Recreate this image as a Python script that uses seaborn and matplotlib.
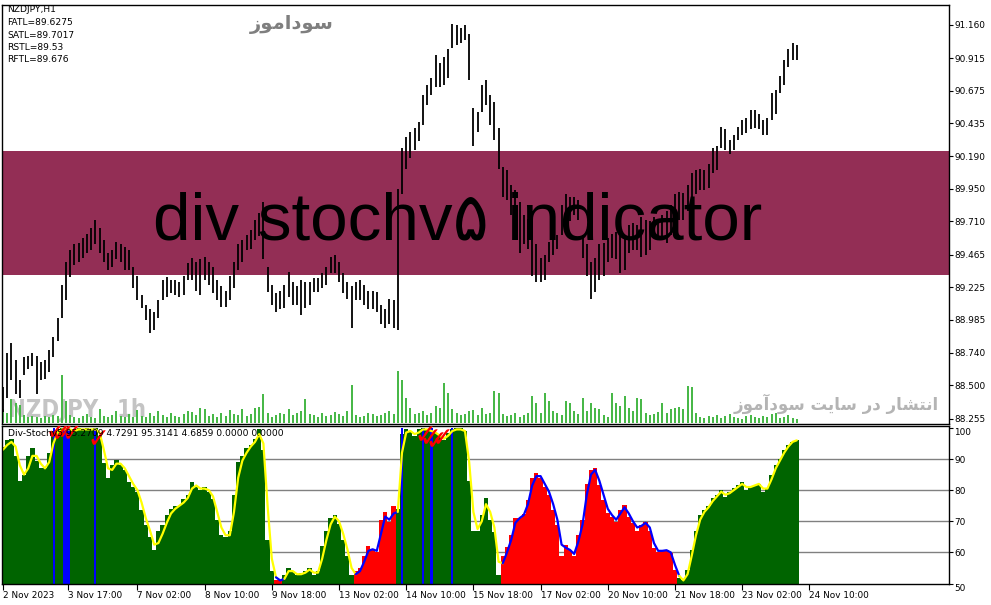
import numpy as np
import matplotlib
matplotlib.use("Agg")
import matplotlib.pyplot as plt
import matplotlib.transforms as mtransforms
import seaborn as sns

# ---------------- data (2-hour bars, hour index = 2*i) ----------------
price_high = [88.49, 88.74, 88.81, 88.69, 88.54, 88.71, 88.72, 88.74, 88.72, 88.67,
              88.69, 88.76, 88.86, 89.00, 89.24, 89.41, 89.50, 89.54, 89.55, 89.59,
              89.62, 89.66, 89.72, 89.66, 89.57, 89.48, 89.50, 89.56, 89.54, 89.52,
              89.50, 89.37, 89.31, 89.17, 89.09, 89.06, 89.04, 89.13, 89.28, 89.30,
              89.28, 89.28, 89.26, 89.31, 89.40, 89.44, 89.41, 89.43, 89.45, 89.41,
              89.37, 89.28, 89.23, 89.20, 89.31, 89.41, 89.54, 89.57, 89.61, 89.65,
              89.72, 89.77, 89.85, 89.37, 89.24, 89.18, 89.20, 89.24, 89.34, 89.26,
              89.23, 89.28, 89.26, 89.26, 89.29, 89.29, 89.33, 89.37, 89.45, 89.46,
              89.41, 89.33, 89.26, 89.23, 89.26, 89.28, 89.24, 89.20, 89.20, 89.19,
              89.09, 89.06, 89.14, 89.13, 89.95, 90.25, 90.33, 90.37, 90.40, 90.44,
              90.64, 90.72, 90.77, 90.94, 90.88, 90.92, 90.98, 91.17, 91.16, 91.14,
              91.16, 91.09, 90.55, 90.52, 90.72, 90.75, 90.64, 90.59, 90.40, 90.11,
              90.09, 89.98, 89.94, 89.85, 89.76, 89.73, 89.57, 89.54, 89.44, 89.46,
              89.56, 89.57, 89.61, 89.83, 89.91, 89.89, 89.89, 89.87, 89.61, 89.54,
              89.41, 89.44, 89.54, 89.55, 89.59, 89.62, 89.63, 89.65, 89.61, 89.68,
              89.70, 89.68, 89.74, 89.72, 89.71, 89.74, 89.73, 89.76, 89.79, 89.83,
              89.91, 89.93, 89.92, 89.98, 90.07, 90.09, 90.10, 90.09, 90.13, 90.25,
              90.27, 90.41, 90.39, 90.31, 90.35, 90.41, 90.46, 90.47, 90.53, 90.53,
              90.50, 90.46, 90.47, 90.66, 90.68, 90.78, 90.90, 90.98, 91.03, 91.01]

price_low = [88.30, 88.41, 88.54, 88.44, 88.41, 88.58, 88.62, 88.64, 88.44, 88.54,
             88.55, 88.60, 88.71, 88.83, 89.00, 89.13, 89.30, 89.39, 89.41, 89.44,
             89.48, 89.50, 89.54, 89.48, 89.41, 89.35, 89.37, 89.43, 89.41, 89.35,
             89.35, 89.22, 89.13, 89.07, 88.98, 88.89, 88.91, 89.00, 89.13, 89.15,
             89.18, 89.17, 89.15, 89.17, 89.28, 89.28, 89.20, 89.17, 89.28, 89.24,
             89.18, 89.13, 89.08, 89.08, 89.13, 89.22, 89.35, 89.41, 89.50, 89.51,
             89.57, 89.60, 89.43, 89.19, 89.09, 89.04, 89.06, 89.07, 89.15, 89.09,
             89.09, 89.02, 89.07, 89.09, 89.19, 89.19, 89.22, 89.24, 89.33, 89.33,
             89.26, 89.18, 89.14, 88.92, 89.13, 89.13, 89.09, 89.06, 89.06, 89.04,
             88.95, 88.92, 88.95, 88.92, 88.91, 89.91, 90.10, 90.18, 90.24, 90.30,
             90.42, 90.57, 90.64, 90.70, 90.70, 90.72, 90.77, 90.99, 91.01, 91.03,
             91.05, 90.75, 90.27, 90.37, 90.52, 90.57, 90.42, 90.31, 90.10, 89.89,
             89.87, 89.76, 89.68, 89.48, 89.54, 89.51, 89.31, 89.26, 89.26, 89.28,
             89.41, 89.46, 89.51, 89.61, 89.71, 89.71, 89.76, 89.72, 89.44, 89.31,
             89.14, 89.19, 89.28, 89.31, 89.41, 89.44, 89.43, 89.33, 89.35, 89.48,
             89.50, 89.50, 89.45, 89.46, 89.50, 89.60, 89.59, 89.60, 89.55, 89.61,
             89.70, 89.72, 89.72, 89.79, 89.89, 89.91, 89.94, 89.94, 89.96, 90.07,
             90.09, 90.25, 90.24, 90.21, 90.24, 90.31, 90.35, 90.36, 90.39, 90.40,
             90.39, 90.35, 90.35, 90.46, 90.50, 90.66, 90.72, 90.85, 90.90, 90.90]

volume = [140, 100, 240, 200, 180, 80, 60, 70, 60, 50,
          70, 60, 80, 70, 480, 220, 80, 60, 50, 70,
          90, 60, 50, 140, 70, 60, 80, 120, 70, 60,
          90, 60, 130, 70, 60, 100, 70, 120, 80, 60,
          100, 70, 60, 90, 120, 110, 80, 150, 140, 70,
          90, 60, 100, 70, 130, 90, 80, 140, 70, 90,
          150, 160, 290, 100, 60, 80, 100, 90, 140, 80,
          100, 120, 240, 90, 80, 60, 100, 70, 80, 110,
          90, 70, 120, 380, 80, 60, 70, 100, 90, 70,
          80, 100, 120, 90, 520, 430, 250, 150, 90, 100,
          120, 80, 100, 170, 150, 400, 300, 140, 100, 80,
          90, 120, 130, 80, 150, 90, 100, 320, 300, 90,
          70, 80, 100, 60, 80, 100, 270, 200, 100, 300,
          220, 120, 100, 80, 220, 200, 120, 90, 250, 120,
          200, 150, 140, 80, 60, 300, 200, 170, 270, 150,
          120, 250, 240, 100, 80, 90, 110, 200, 100, 140,
          150, 160, 140, 370, 360, 100, 60, 50, 70, 60,
          80, 50, 70, 90, 60, 50, 40, 70, 80, 60,
          50, 70, 60, 90, 100, 50, 60, 80, 50, 40]

stoch_hist = [94, 96, 96.5, 91, 83, 85, 91, 93.5, 89.5, 87,
              87, 92, 99, 99.5, 100, 100, 99.5, 99.5, 100, 99.5,
              100, 99.5, 100, 97.5, 88.6, 84, 88, 89.6, 88, 86.4,
              82.5, 81, 79.4, 73.6, 68.8, 65, 60.7, 67, 68.8, 72,
              74, 75, 75, 77, 78.4, 82.5, 81, 80, 81, 79.4,
              77, 70.4, 65.5, 65, 67, 78.4, 89, 91, 93.5, 94.4,
              96.5, 99.5, 92.8, 64, 54, 51, 51, 52.7, 55, 53.7,
              52.7, 53.4, 54, 55, 52.7, 54, 62, 67, 71, 72,
              69, 64, 59, 52.7, 54, 55, 59, 62, 60.7, 60,
              70.4, 73, 69.7, 75, 74, 98, 99.5, 99, 97.5, 99.5,
              100, 99.5, 99, 98.5, 97, 96, 98.5, 99.5, 100, 100,
              99, 83, 67, 67, 72, 77.5, 70.4, 66.5, 52.7, 59,
              61.7, 65.5, 71, 71, 72.3, 76.8, 84, 85.4, 83.8, 81,
              78.4, 73.6, 68.8, 59, 62.3, 60.7, 59, 65.5, 70.4, 82,
              86.4, 87, 81.6, 76.8, 72.6, 71.3, 69.7, 73.6, 75.2, 71.3,
              69.4, 67, 68.8, 69.7, 67, 61.4, 60, 60.7, 60.7, 59.8,
              54.3, 51.8, 51, 54.3, 60.7, 67, 72, 73.6, 75, 77.4,
              78.4, 80, 77.7, 79.4, 80.6, 81.6, 82.5, 80, 81, 81.6,
              82, 79.4, 80.6, 84.8, 88, 90, 92.8, 94.4, 95.4, 96]

stoch_line = [93, 94.5, 95.5, 94, 88, 85, 87, 91, 91, 88.5,
              87, 89, 95, 98.5, 99.5, 99.5, 99.5, 99, 99.5, 99.5,
              99.5, 99.5, 99.5, 98.5, 93, 87, 86.5, 88.5, 88.5, 87,
              84.5, 82, 80, 76, 71, 67, 62.5, 63, 66, 69.5,
              72.5, 74, 75, 76, 77.5, 80.5, 81.5, 80.5, 80.5, 80,
              78, 73, 68, 65.5, 65.5, 73, 84, 89.5, 92, 94,
              95.5, 98, 95, 75, 58, 52, 51, 51.5, 54, 54,
              53, 53, 53.5, 54.5, 53.5, 53.5, 58, 64, 69, 71.5,
              70, 66, 61, 55, 53, 54, 57, 60.5, 61, 60.5,
              66, 71.5, 70.5, 72.5, 73, 92, 98.5, 99, 98, 98.5,
              99.5, 99.5, 99, 98.5, 97.5, 96.5, 97.5, 99, 99.5, 99.5,
              99, 89, 73, 67.5, 70, 75.5, 73, 68, 57, 56.5,
              60, 64, 69.5, 71, 72, 75.5, 81.5, 84.5, 84.5, 82,
              79.5, 75.5, 70.5, 62.5, 61.5, 60.8, 59.5, 63.5, 69, 78.5,
              85, 86.5, 83, 78.5, 74, 72, 70.5, 72.5, 74.5, 72.5,
              70, 68, 68.5, 69.5, 68, 63, 60.5, 60.5, 60.7, 60,
              56, 52.5, 51, 53, 59, 65.5, 70.5, 73, 74.5, 76.5,
              78, 79.5, 78.5, 79, 80, 81, 82, 81, 81, 81.5,
              82, 80.5, 80.5, 83.5, 87, 89.5, 92, 94, 95.5, 96]

# runs of trend state (up = green/yellow, down = red/blue), bar counts
state_runs = [("up", 65), ("down", 2), ("up", 17), ("down", 10),
              ("up", 25), ("down", 42), ("up", 29)]

# divergence signal bars (hour index) and their widths in hours
signal_hours = [24.3, 30.2, 43.8, 190.0, 199.9, 204.1, 213.8]
signal_widths = [1.0, 3.2, 1.0, 1.0, 1.0, 1.5, 1.0]

# red check arrows near the top of the oscillator
arrow_hours = [25.0, 27.5, 30.0, 33.0, 45.0, 201.0, 203.5, 206.0, 209.0]
arrow_values = [99.5, 99.0, 99.5, 99.0, 97.0, 98.5, 97.5, 96.5, 97.5]

price_ticks = [91.160, 90.915, 90.675, 90.435, 90.190, 89.950, 89.710,
               89.465, 89.225, 88.985, 88.740, 88.500, 88.255]
osc_ticks = [100, 90, 80, 70, 60, 50]
osc_levels = [60, 70, 80, 90]
time_ticks = [0, 31, 64, 96, 128, 160, 192, 224, 256, 288, 320, 352, 384]
time_labels = ["2 Nov 2023", "3 Nov 17:00", "7 Nov 02:00", "8 Nov 10:00",
               "9 Nov 18:00", "13 Nov 02:00", "14 Nov 10:00", "15 Nov 18:00",
               "17 Nov 02:00", "20 Nov 10:00", "21 Nov 18:00", "23 Nov 02:00",
               "24 Nov 10:00"]
info_lines = ["NZDJPY,H1", "FATL=89.6275", "SATL=89.7017", "RSTL=89.53", "RFTL=89.676"]
band_top, band_bottom = 90.23, 89.315
osc_label = "Div-Stochv5 95.2709 4.7291 95.3141 4.6859 0.0000 0.0000"

# ---------------- figure ----------------
sns.set_theme(style="white")
plt.rcParams["font.family"] = ["DejaVu Sans"]

W, H = 991, 605
fig = plt.figure(figsize=(W / 100, H / 100), dpi=100)
fig.patch.set_facecolor("white")


def fx(p):
    return p / W


def fy(p):
    return 1 - p / H


ax_v = fig.add_axes([fx(2), fy(424), fx(947), 419 / H])
ax1 = fig.add_axes([fx(2), fy(424), fx(947), 419 / H])
ax2 = fig.add_axes([fx(2), fy(584), fx(947), 158 / H])
ax_v.set_zorder(0)
ax1.set_zorder(1)
ax1.patch.set_visible(False)

n = len(price_high)
hours = np.arange(n) * 2.0
xlim = (-0.48, 450.5)

state = []
for s, c in state_runs:
    state += [s] * c
state = np.array(state)

# --- volume (background layer) ---
ax_v.bar(hours, volume, width=1.0, color="#48b848", linewidth=0, zorder=2)
ax_v.set_xlim(*xlim)
ax_v.set_ylim(-10, 4190)
ax_v.axis("off")
wm_kw = dict(transform=ax_v.transAxes, fontsize=17, fontweight="bold",
             fontstretch="condensed", color="#c4c4c4", ha="left", va="baseline",
             family=["DejaVu Sans"], zorder=1)
ax_v.text((8 - 2) / 947, (424 - 417) / 419, "NZDJPY", **wm_kw)
ax_v.text((117 - 2) / 947, (424 - 417) / 419, "1h", **wm_kw)

# --- price panel ---
ax1.axhspan(band_bottom, band_top, color="#932e55", zorder=0.5, lw=0)
ax1.vlines(hours, price_low, price_high, color="black", lw=1.3, zorder=2)
ax1.set_xlim(*xlim)
ax1.set_ylim(88.215, 91.307)
ax1.set_xticks([])
ax1.yaxis.tick_right()
ax1.set_yticks(price_ticks)
ax1.set_yticklabels([f"{t:.3f}" for t in price_ticks])
ax1.tick_params(axis="y", right=True, length=3, width=0.8, pad=1,
                labelsize=6.4, colors="black")
for sp in ax1.spines.values():
    sp.set_color("black")
    sp.set_linewidth(1.0)

band_tr = mtransforms.blended_transform_factory(ax1.transAxes, ax1.transData)
ax1.text((153 - 2) / 947, 89.573, "div stochv\u06f5 indicator", transform=band_tr,
         fontsize=48.5, color="black", ha="left", va="baseline",
         family=["Liberation Sans", "DejaVu Sans"], zorder=3)

# --- oscillator panel ---
for lv in osc_levels:
    ax2.axhline(lv, color="#808080", lw=1.0, zorder=0.5)
hist_colors = np.where(state == "up", "#006400", "#ff0000")
ax2.bar(hours, stoch_hist, width=2.0, color=hist_colors, linewidth=0, zorder=1)
ax2.bar(signal_hours, [100] * len(signal_hours), width=signal_widths,
        color="#0000ff", linewidth=0, zorder=1.5)

# signal line coloured by state
start = 0
for s, c in state_runs:
    end = min(start + c + 1, n)
    sns.lineplot(x=hours[start:end], y=stoch_line[start:end], ax=ax2,
                 color="#ffff00" if s == "up" else "#0000ff", lw=1.6,
                 zorder=2, estimator=None, sort=False)
    start += c

sns.scatterplot(x=arrow_hours, y=arrow_values, ax=ax2, marker=r"$\checkmark$",
                color="red", s=110, linewidth=0, zorder=3)

ax2.set_xlim(*xlim)
ax2.set_ylim(49.85, 100.6)
ax2.yaxis.tick_right()
ax2.set_yticks(osc_ticks)
ax2.set_yticklabels([str(t) for t in osc_ticks])
ax2.tick_params(axis="y", right=True, length=3, width=0.8, pad=1,
                labelsize=6.4, colors="black")
for lab, t in zip(ax2.get_yticklabels(), osc_ticks):
    if t in (100, 50):
        lab.set_va("top")
ax2.set_xticks(time_ticks)
ax2.set_xticklabels(time_labels)
ax2.tick_params(axis="x", bottom=True, length=4, width=0.8, pad=1,
                labelsize=6.4, colors="black")
for lab in ax2.get_xticklabels():
    lab.set_ha("left")
for sp in ax2.spines.values():
    sp.set_color("black")
    sp.set_linewidth(1.0)
ax2.set_xlabel("")
ax2.set_ylabel("")
ax2.text((8 - 2) / 947, 1 - (433 - 426) / 158, osc_label, transform=ax2.transAxes,
         fontsize=6.6, color="black", ha="left", va="center", zorder=4)

# --- overlay texts ---
for i, line in enumerate(info_lines):
    fig.text(fx(7), fy(10 + i * 12.5), line, fontsize=6.6, color="black",
             ha="left", va="center")

title_fa = "\uFEAF\uFEEE\uFEE3\uFE8D\uFEA9\uFEEE\uFEB3"
fig.text(fx(292), fy(25), title_fa, fontsize=14, fontweight="bold",
         color="#7f7f7f", ha="center", va="center", family=["DejaVu Sans"])

w1 = "\uFEAF\uFEEE\uFEE3\uFE81\uFEA9\uFEEE\uFEB3"   # sodamooz
w2 = "\uFE96\uFBFE\uFE8E\uFEB3"                     # site
w3 = "\uFEAD\uFEA9"                                 # dar
w4 = "\uFEAD\uFE8E\uFEB8\uFE98\uFEE7\uFE8D"         # enteshar
footer_fa = " ".join([w1, w2, w3, w4])
fig.text(fx(836), fy(404), footer_fa, fontsize=12, fontweight="bold",
         color="#b4b4b4", ha="center", va="center", family=["DejaVu Sans"])

fig.savefig("out.png", dpi=100, facecolor="white")
